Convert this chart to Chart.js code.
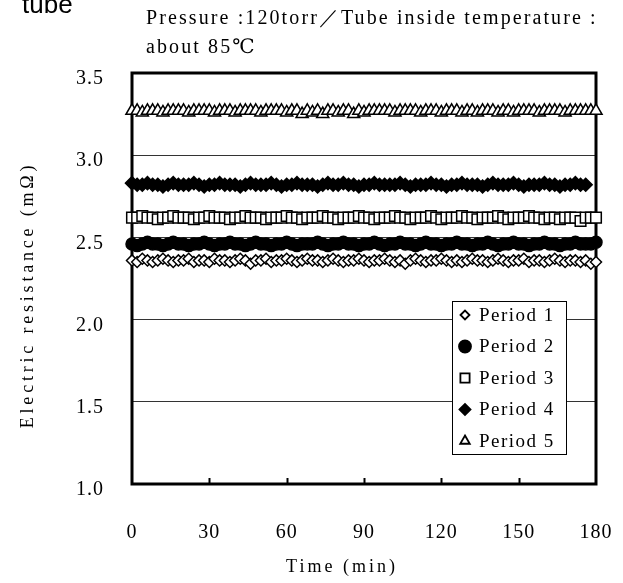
<!DOCTYPE html>
<html>
<head>
<meta charset="utf-8">
<script src="https://cdn.jsdelivr.net/npm/chart.js@4/dist/chart.umd.min.js"></script>
<style>
  html, body { margin: 0; padding: 0; background: #fff; }
  #wrap { width: 623px; height: 583px; position: relative; }
</style>
</head>
<body>
<div id="wrap"><canvas id="c" width="623" height="583"></canvas></div>
<script>
// time in minutes
const times = [0,2,4,6,8,10,12,14,16,18,20,22,24,26,28,30,32,34,36,38,40,42,44,46,48,50,52,54,56,58,
  60,62,64,66,68,70,72,74,76,78,80,82,84,86,88,90,92,94,96,98,100,102,104,106,108,110,112,114,116,118,
  120,122,124,126,128,130,132,134,136,138,140,142,144,146,148,150,152,154,156,158,160,162,164,166,168,170,172,174,176,178,180];

const period1 = [2.36,2.35,2.37,2.36,2.35,2.36,2.37,2.36,2.35,2.36,
  2.36,2.37,2.35,2.36,2.36,2.35,2.37,2.36,2.36,2.35,
  2.36,2.37,2.36,2.34,2.36,2.36,2.37,2.35,2.36,2.36,
  2.37,2.36,2.35,2.36,2.37,2.36,2.36,2.35,2.36,2.37,
  2.36,2.35,2.36,2.36,2.37,2.36,2.35,2.36,2.36,2.37,
  2.36,2.35,2.36,2.34,2.36,2.37,2.36,2.35,2.36,2.36,
  2.37,2.36,2.35,2.36,2.35,2.36,2.37,2.36,2.36,2.35,
  2.36,2.37,2.36,2.35,2.36,2.36,2.37,2.35,2.36,2.36,
  2.35,2.36,2.37,2.36,2.35,2.36,2.36,2.35,2.36,2.34,
  2.35];
const period2 = [2.46,2.45,2.46,2.47,2.46,2.46,2.45,2.46,2.47,2.46,
  2.46,2.45,2.46,2.46,2.47,2.46,2.45,2.46,2.46,2.47,
  2.46,2.46,2.45,2.46,2.47,2.46,2.46,2.45,2.46,2.46,
  2.47,2.46,2.45,2.46,2.46,2.46,2.47,2.46,2.45,2.46,
  2.46,2.47,2.46,2.46,2.45,2.46,2.46,2.47,2.46,2.45,
  2.46,2.46,2.47,2.46,2.46,2.45,2.46,2.47,2.46,2.46,
  2.45,2.46,2.46,2.47,2.46,2.46,2.45,2.46,2.46,2.47,
  2.46,2.45,2.46,2.46,2.47,2.46,2.46,2.45,2.46,2.46,
  2.47,2.46,2.46,2.45,2.46,2.46,2.47,2.46,2.46,2.46,
  2.47];
const period3 = [2.62,2.62,2.63,2.62,2.62,2.61,2.62,2.62,2.63,2.62,
  2.62,2.62,2.61,2.62,2.62,2.63,2.62,2.62,2.62,2.61,
  2.62,2.62,2.63,2.62,2.62,2.62,2.61,2.62,2.62,2.62,
  2.63,2.62,2.62,2.61,2.62,2.62,2.62,2.63,2.62,2.62,
  2.61,2.62,2.62,2.62,2.63,2.62,2.62,2.61,2.62,2.62,
  2.62,2.63,2.62,2.62,2.61,2.62,2.62,2.62,2.63,2.62,
  2.61,2.62,2.62,2.62,2.63,2.62,2.62,2.61,2.62,2.62,
  2.62,2.63,2.62,2.61,2.62,2.62,2.62,2.63,2.62,2.62,
  2.61,2.62,2.62,2.61,2.62,2.62,2.62,2.60,2.62,2.62,
  2.62];
const period4 = [2.83,2.82,2.82,2.83,2.82,2.82,2.81,2.82,2.83,2.82,
  2.82,2.82,2.83,2.82,2.81,2.82,2.82,2.83,2.82,2.82,
  2.82,2.81,2.82,2.83,2.82,2.82,2.82,2.83,2.82,2.81,
  2.82,2.82,2.83,2.82,2.82,2.82,2.81,2.82,2.83,2.82,
  2.82,2.83,2.82,2.82,2.81,2.82,2.82,2.83,2.82,2.82,
  2.82,2.82,2.83,2.82,2.81,2.82,2.82,2.82,2.83,2.82,
  2.82,2.81,2.82,2.82,2.83,2.82,2.82,2.82,2.81,2.82,
  2.83,2.82,2.82,2.82,2.83,2.82,2.81,2.82,2.82,2.82,
  2.83,2.82,2.82,2.81,2.82,2.82,2.83,2.82,2.82];
const period5 = [3.27,3.27,3.26,3.27,3.27,3.27,3.26,3.27,3.27,3.27,
  3.27,3.26,3.27,3.27,3.27,3.27,3.26,3.27,3.27,3.27,
  3.26,3.27,3.27,3.27,3.27,3.26,3.27,3.27,3.27,3.27,
  3.26,3.27,3.27,3.25,3.27,3.26,3.27,3.25,3.27,3.27,
  3.26,3.27,3.27,3.25,3.27,3.26,3.27,3.27,3.27,3.27,
  3.27,3.26,3.27,3.27,3.27,3.27,3.26,3.27,3.27,3.27,
  3.26,3.27,3.27,3.27,3.26,3.27,3.27,3.26,3.27,3.27,
  3.27,3.26,3.27,3.27,3.26,3.27,3.27,3.27,3.27,3.26,
  3.27,3.27,3.27,3.27,3.26,3.27,3.27,3.27,3.27,3.27,
  3.27];

const xTicks = [0, 30, 60, 90, 120, 150, 180];
const yTicks = [1.0, 1.5, 2.0, 2.5, 3.0, 3.5];

const serif = "'Liberation Serif', 'DejaVu Serif', serif";

const pts = (vals) => vals.map((v, i) => ({ x: times[i], y: v }));

const series = [
  { label: "Period 1", data: period1, style: "rectRot", r: 5.5, fill: "#fff" },
  { label: "Period 2", data: period2, style: "circle", r: 6, fill: "#000" },
  { label: "Period 3", data: period3, style: "rect", r: 7.5, fill: "#fff" },
  { label: "Period 4", data: period4, style: "rectRot", r: 6.5, fill: "#000" },
  { label: "Period 5", data: period5, style: "triangle", r: 7, fill: "#fff" },
];

const legendR = [4.5, 6, 6.5, 5.5, 5.5];

// texts, frame, inward ticks and the boxed legend
const extras = {
  id: "extras",
  beforeDraw(chart) {
    chart.ctx.letterSpacing = "1px";
  },
  beforeDatasetsDraw(chart) {
    const { ctx, chartArea: a, scales } = chart;
    ctx.save();
    ctx.strokeStyle = "#000";
    ctx.lineWidth = 2;
    xTicks.slice(1, -1).forEach((t) => {
      const x = Math.round(scales.x.getPixelForValue(t)) + 0.5;
      ctx.beginPath();
      ctx.moveTo(x, a.bottom);
      ctx.lineTo(x, a.bottom - 6);
      ctx.stroke();
    });
    ctx.lineWidth = 3;
    ctx.strokeRect(a.left, a.top, a.right - a.left, a.bottom - a.top);
    ctx.restore();
  },
  afterDatasetsDraw(chart) {
    const { ctx, chartArea: a } = chart;
    ctx.save();
    // legend box
    const bx = a.left + 320, by = a.top + 228, bw = 114, bh = 153;
    ctx.fillStyle = "#fff";
    ctx.fillRect(bx, by, bw, bh);
    ctx.strokeStyle = "#000";
    ctx.lineWidth = 1;
    ctx.strokeRect(bx + 0.5, by + 0.5, bw, bh);
    chart.data.datasets.forEach((ds, i) => {
      const y = by + 14 + i * 31.5;
      ctx.fillStyle = ds.pointBackgroundColor;
      ctx.strokeStyle = "#000";
      ctx.lineWidth = 1.8;
      Chart.helpers.drawPoint(ctx, { pointStyle: ds.pointStyle, radius: legendR[i], rotation: 0, borderWidth: 1.8 }, bx + 13, y);
      ctx.fillStyle = "#000";
      ctx.font = "19px " + serif;
      ctx.textBaseline = "middle";
      ctx.textAlign = "left";
      ctx.letterSpacing = "1.5px";
      ctx.fillText(ds.label, bx + 27, y + 1);
    });
    // titles
    ctx.fillStyle = "#000";
    ctx.textBaseline = "middle";
    ctx.letterSpacing = "2.1px";
    ctx.font = "20px " + serif;
    ctx.textAlign = "left";
    ctx.fillText("Pressure :120torr／Tube inside temperature :", 146, 19);
    ctx.fillText("about 85℃", 146, 48);
    ctx.letterSpacing = "0px";
    ctx.font = "26px 'Liberation Sans', Arial, sans-serif";
    ctx.fillText("tube", 22, 6);
    ctx.letterSpacing = "3px";
    ctx.font = "18px " + serif;
    ctx.textAlign = "center";
    ctx.fillText("Time (min)", 342, 567);
    ctx.translate(28, 295);
    ctx.rotate(-Math.PI / 2);
    ctx.letterSpacing = "3.8px";
    ctx.fillText("Electric resistance (mΩ)", 0, 0);
    ctx.restore();
  },
};

new Chart(document.getElementById("c"), {
  type: "scatter",
  data: {
    datasets: series.map((s) => ({
      label: s.label,
      data: pts(s.data),
      showLine: false,
      pointStyle: s.style,
      pointRadius: s.r,
      pointHoverRadius: s.r,
      pointBackgroundColor: s.fill,
      pointBorderColor: "#000",
      pointBorderWidth: 1.5,
      clip: false,
    })),
  },
  options: {
    responsive: false,
    animation: false,
    events: [],
    layout: { padding: { top: 73, right: 27, left: 0, bottom: 0 } },
    plugins: { legend: { display: false }, tooltip: { enabled: false } },
    scales: {
      x: {
        type: "linear",
        min: 0,
        max: 180,
        afterBuildTicks: (s) => { s.ticks = xTicks.map((v) => ({ value: v })); },
        afterFit: (s) => { s.height = 99; s.paddingLeft = 0; s.paddingRight = 0; },
        ticks: { padding: 29, color: "#000", font: { family: serif, size: 20 } },
        grid: { display: false },
        border: { display: false },
      },
      y: {
        min: 1.0,
        max: 3.5,
        afterBuildTicks: (s) => { s.ticks = yTicks.map((v) => ({ value: v })); },
        afterFit: (s) => { s.width = 132; s.paddingTop = 0; s.paddingBottom = 0; },
        ticks: {
          padding: 28,
          labelOffset: 6,
          color: "#000",
          font: { family: serif, size: 20 },
          callback: (v) => v.toFixed(1),
        },
        grid: { color: "#333", lineWidth: 1, drawTicks: false },
        border: { display: false },
      },
    },
  },
  plugins: [extras],
});
</script>
</body>
</html>
